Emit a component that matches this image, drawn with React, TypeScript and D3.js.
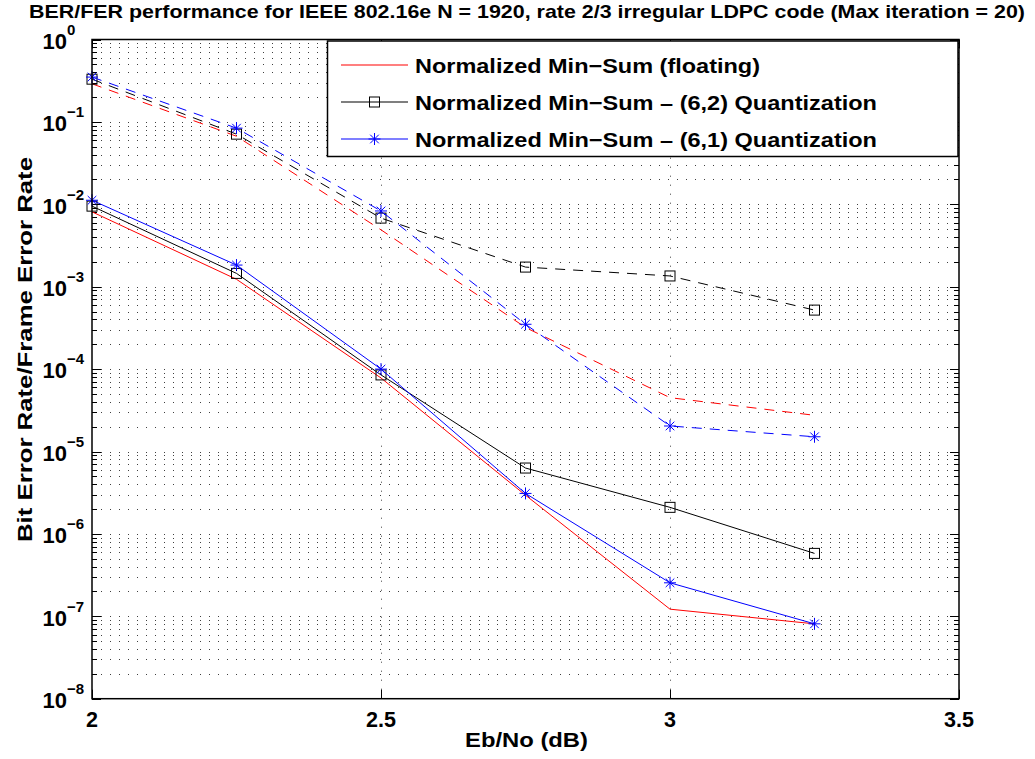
import React from "react";
import * as d3 from "d3";

const ebno = [2, 2.25, 2.5, 2.75, 3, 3.25];
const berFloat = [8.1e-3, 1.23e-3, 7.8e-5, 2.95e-6, 1.22e-7, 8.1e-8];
const berQ62 = [9.5e-3, 1.45e-3, 8.5e-5, 6.3e-6, 2.1e-6, 5.8e-7];
const berQ61 = [1.12e-2, 1.83e-3, 1.0e-4, 3.1e-6, 2.55e-7, 8.1e-8];
const ferFloat = [0.29, 0.067, 4.9e-3, 3.2e-4, 4.5e-5, 2.75e-5];
const ferQ62 = [0.33, 0.071, 6.8e-3, 1.73e-3, 1.35e-3, 5.2e-4];
const ferQ61 = [0.35, 0.084, 8.3e-3, 3.5e-4, 2.04e-5, 1.51e-5];
const xTicks = [2, 2.5, 3, 3.5];
const yExps = [0, -1, -2, -3, -4, -5, -6, -7, -8];
const legendLabels = [
  "Normalized Min\u2212Sum (floating)",
  "Normalized Min\u2212Sum \u2013 (6,2) Quantization",
  "Normalized Min\u2212Sum \u2013 (6,1) Quantization",
];
const legendWidths = [345, 462, 462];
const title =
  "BER/FER performance for IEEE 802.16e N = 1920, rate 2/3 irregular LDPC code (Max iteration = 20)";

const L = 92, R = 959, T = 39.5, B = 698.7;
const FONT = "'Liberation Sans', Arial, Helvetica, sans-serif";

export default function App() {
  const x = d3.scaleLinear().domain([2, 3.5]).range([L, R]);
  const y = d3.scaleLog().domain([1e-8, 1]).range([B, T]);
  const line = d3
    .line<[number, number]>()
    .x((d) => x(d[0]))
    .y((d) => y(d[1]));
  const pts = (vals: number[]) => ebno.map((e, i) => [e, vals[i]] as [number, number]);

  const minorVals: number[] = [];
  for (let e = -8; e < 0; e++) for (let m = 2; m <= 9; m++) minorVals.push(m * Math.pow(10, e));

  const series = [
    { vals: berFloat, color: "#ff0000", dash: undefined, marker: "none" },
    { vals: berQ62, color: "#000000", dash: undefined, marker: "square" },
    { vals: berQ61, color: "#0000ff", dash: undefined, marker: "star" },
    { vals: ferFloat, color: "#ff0000", dash: "10,8", marker: "none" },
    { vals: ferQ62, color: "#000000", dash: "10,8", marker: "square" },
    { vals: ferQ61, color: "#0000ff", dash: "10,8", marker: "star" },
  ];

  const marker = (type: string, cx: number, cy: number, color: string, key: string) => {
    if (type === "square")
      return <rect key={key} x={cx - 5} y={cy - 5} width={10} height={10} fill="none" stroke={color} strokeWidth={1} />;
    if (type === "star") {
      const r = 6, d = 4.3;
      return (
        <g key={key} stroke={color} strokeWidth={1}>
          <line x1={cx - r} y1={cy} x2={cx + r} y2={cy} />
          <line x1={cx} y1={cy - r} x2={cx} y2={cy + r} />
          <line x1={cx - d} y1={cy - d} x2={cx + d} y2={cy + d} />
          <line x1={cx - d} y1={cy + d} x2={cx + d} y2={cy - d} />
        </g>
      );
    }
    return null;
  };

  const legendColors = ["#ff0000", "#000000", "#0000ff"];
  const legendMarkers = ["none", "square", "star"];
  const legendY = [65, 102, 139];

  return (
    <svg width={1035} height={759} style={{ display: "block", position: "absolute", left: 0, top: 0 }} fontFamily={FONT}>
      <rect x={0} y={0} width={1035} height={759} fill="#fff" />
      {/* grid */}
      <g stroke="#000" strokeWidth={1} strokeDasharray="1,8" opacity={0.75}>
        {yExps.slice(1, -1).map((e) => (
          <line key={"gy" + e} x1={L} x2={R} y1={Math.round(y(Math.pow(10, e))) + 0.5} y2={Math.round(y(Math.pow(10, e))) + 0.5} />
        ))}
        {minorVals.map((v, i) => (
          <line key={"gm" + i} x1={L} x2={R} y1={Math.round(y(v)) + 0.5} y2={Math.round(y(v)) + 0.5} />
        ))}
        {xTicks.slice(1, -1).map((t) => (
          <line key={"gx" + t} x1={Math.round(x(t)) + 0.5} x2={Math.round(x(t)) + 0.5} y1={B} y2={T} />
        ))}
      </g>
      {/* ticks */}
      <g stroke="#000" strokeWidth={1}>
        {yExps.map((e) => {
          const yy = Math.round(y(Math.pow(10, e))) + 0.5;
          return (
            <g key={"ty" + e}>
              <line x1={L} x2={L + 9} y1={yy} y2={yy} />
              <line x1={R} x2={R - 9} y1={yy} y2={yy} />
            </g>
          );
        })}
        {minorVals.map((v, i) => {
          const yy = Math.round(y(v)) + 0.5;
          return (
            <g key={"tm" + i}>
              <line x1={L} x2={L + 5} y1={yy} y2={yy} />
              <line x1={R} x2={R - 5} y1={yy} y2={yy} />
            </g>
          );
        })}
        {xTicks.map((t) => {
          const xx = Math.round(x(t)) + 0.5;
          return (
            <g key={"tx" + t}>
              <line x1={xx} x2={xx} y1={B} y2={B - 9} />
              <line x1={xx} x2={xx} y1={T} y2={T + 9} />
            </g>
          );
        })}
      </g>
      {/* series */}
      {series.map((s, i) => (
        <g key={"s" + i}>
          <path d={line(pts(s.vals)) || ""} fill="none" stroke={s.color} strokeWidth={1} strokeDasharray={s.dash} />
          {pts(s.vals).map((p, j) => marker(s.marker, x(p[0]), y(p[1]), s.color, "m" + i + "_" + j))}
        </g>
      ))}
      {/* axes box */}
      <rect x={L} y={T} width={R - L} height={B - T} fill="none" stroke="#000" strokeWidth={1.5} />
      {/* legend */}
      <rect x={327.5} y={41} width={630.5} height={115.5} fill="#fff" stroke="#000" strokeWidth={1.5} />
      {legendLabels.map((lab, i) => (
        <g key={"lg" + i}>
          <line x1={341} x2={408} y1={legendY[i]} y2={legendY[i]} stroke={legendColors[i]} strokeWidth={1.2} />
          {marker(legendMarkers[i], 374.5, legendY[i], legendColors[i], "lm" + i)}
          <text
            x={415}
            y={legendY[i] + 7.5}
            fontSize={20}
            fontWeight="bold"
            fill="#000"
            textLength={legendWidths[i]}
            lengthAdjust="spacingAndGlyphs"
          >
            {lab}
          </text>
        </g>
      ))}
      {/* tick labels */}
      {xTicks.map((t) => (
        <text key={"xl" + t} x={x(t)} y={727} textAnchor="middle" fontSize={21.5} fontWeight="bold">
          {t}
        </text>
      ))}
      {yExps.map((e) => {
        const yy = y(Math.pow(10, e));
        return (
          <text key={"yl" + e} x={42.5} y={yy + 9.3} fontSize={22} fontWeight="bold">
            10
            <tspan fontSize={15} dy={-14}>
              {e === 0 ? "0" : "\u2212" + Math.abs(e)}
            </tspan>
          </text>
        );
      })}
      {/* labels */}
      <text x={29} y={17.5} fontSize={18.5} fontWeight="bold" textLength={996} lengthAdjust="spacingAndGlyphs">
        {title}
      </text>
      <text x={465} y={747} fontSize={19.5} fontWeight="bold" textLength={123} lengthAdjust="spacingAndGlyphs">
        Eb/No (dB)
      </text>
      <text
        transform={`translate(32, 542) rotate(-90)`}
        fontSize={19.5}
        fontWeight="bold"
        textLength={385}
        lengthAdjust="spacingAndGlyphs"
      >
        Bit Error Rate/Frame Error Rate
      </text>
    </svg>
  );
}
